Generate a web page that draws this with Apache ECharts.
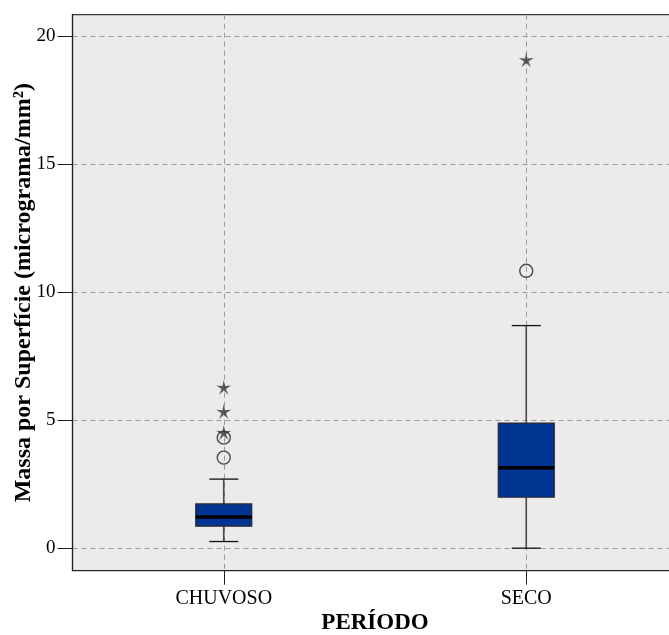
<!DOCTYPE html>
<html>
<head>
<meta charset="utf-8">
<script src="https://cdn.jsdelivr.net/npm/echarts@6/dist/echarts.min.js"></script>
<style>
  html, body { margin: 0; padding: 0; background: #ffffff; }
  #chart { width: 669px; height: 635px; }
</style>
</head>
<body>
<div id="chart"></div>
<script>
// Groups along the horizontal axis
const categories = ['CHUVOSO', 'SECO'];
// Box statistics per group: [lower whisker, Q1, median, Q3, upper whisker]
const chuvosoBox = [0.26, 0.86, 1.22, 1.73, 2.70];
const secoBox = [0.00, 1.99, 3.14, 4.89, 8.70];
// Outliers (circles) and extreme values (stars) per group
const chuvosoOutliers = [3.54, 4.32];
const secoOutliers = [10.84];
const chuvosoExtremes = [4.52, 5.34, 6.29];
const secoExtremes = [19.09];
// Value axis tick labels
const yTicks = [0, 5, 10, 15, 20];

const boxData = [chuvosoBox, secoBox].map((s, i) => [i].concat(s));
const toPoints = (vals, i) => vals.map(v => [i, v]);
const outlierData = toPoints(chuvosoOutliers, 0).concat(toPoints(secoOutliers, 1));
const extremeData = toPoints(chuvosoExtremes, 0).concat(toPoints(secoExtremes, 1));

const STAR = 'path://M10 0 L11.6 7.6 L19.51 6.91 L12.8 11.1 L15.88 18.09 L10 13.0 L4.12 18.09 L7.2 11.1 L0.49 6.91 L8.4 7.6 Z';
const serif = '"Liberation Serif", "Times New Roman", serif';

function renderBox(params, api) {
  const x = api.value(0);
  const lo = api.coord([x, api.value(1)]);
  const q1 = api.coord([x, api.value(2)]);
  const md = api.coord([x, api.value(3)]);
  const q3 = api.coord([x, api.value(4)]);
  const hi = api.coord([x, api.value(5)]);
  const cx = lo[0];
  const boxW = 56, capW = 29;
  const whisker = { stroke: '#4a4a4a', lineWidth: 1.6 };
  const cap = { stroke: '#111', lineWidth: 1.3 };
  return {
    type: 'group',
    children: [
      { type: 'line', shape: { x1: cx, y1: lo[1], x2: cx, y2: q1[1] }, style: whisker },
      { type: 'line', shape: { x1: cx, y1: q3[1], x2: cx, y2: hi[1] }, style: whisker },
      { type: 'line', shape: { x1: cx - capW / 2, y1: lo[1], x2: cx + capW / 2, y2: lo[1] }, style: cap },
      { type: 'line', shape: { x1: cx - capW / 2, y1: hi[1], x2: cx + capW / 2, y2: hi[1] }, style: cap },
      { type: 'rect', shape: { x: cx - boxW / 2, y: q3[1], width: boxW, height: q1[1] - q3[1] },
        style: { fill: '#003594', stroke: '#2a2a2a', lineWidth: 1.2 } },
      { type: 'line', shape: { x1: cx - boxW / 2, y1: md[1], x2: cx + boxW / 2, y2: md[1] },
        style: { stroke: '#000', lineWidth: 3.5 } }
    ]
  };
}

const chart = echarts.init(document.getElementById('chart'));
chart.setOption({
  animation: false,
  backgroundColor: '#ffffff',
  grid: {
    left: 72.5, top: 14.7, width: 605, height: 556,
    containLabel: false, outerBoundsMode: 'none',
    show: true, backgroundColor: '#EBEBEB', borderColor: '#3a3a3a', borderWidth: 1.2
  },
  xAxis: {
    type: 'value', min: -0.5, max: 1.5,
    name: 'PERÍODO', nameLocation: 'middle', nameGap: 41, nameMoveOverlap: false,
    nameTextStyle: { fontFamily: serif, fontWeight: 'bold', fontSize: 23, color: '#000' },
    axisLine: { show: true, onZero: false, lineStyle: { color: '#222', width: 1.2 } },
    axisTick: { show: true, length: 14, customValues: [0, 1], lineStyle: { color: '#222' } },
    axisLabel: { customValues: [0, 1], formatter: v => categories[v], margin: 18,
      fontFamily: serif, fontSize: 20, color: '#000' },
    splitLine: { show: true, lineStyle: { color: '#9a9a9a', type: [5, 4], width: 1 } }
  },
  yAxis: {
    type: 'value', min: -0.88, max: 20.85,
    name: 'Massa por Superfície (micrograma/mm²)', nameLocation: 'middle', nameGap: 37,
    nameMoveOverlap: false,
    nameTextStyle: { fontFamily: serif, fontWeight: 'bold', fontSize: 24, color: '#000' },
    axisLine: { show: true, onZero: false, lineStyle: { color: '#222', width: 1.2 } },
    axisTick: { show: true, length: 15, customValues: yTicks, lineStyle: { color: '#222' } },
    axisLabel: { customValues: yTicks, margin: 17, fontFamily: serif, fontSize: 19, color: '#000' },
    splitLine: { show: true, lineStyle: { color: '#9a9a9a', type: [5, 4], width: 1 } }
  },
  series: [
    { type: 'custom', renderItem: renderBox, data: boxData, z: 3 },
    { type: 'scatter', data: outlierData, symbol: 'circle', symbolSize: 13, z: 4,
      itemStyle: { color: 'rgba(0,0,0,0)', borderColor: '#4a4a4a', borderWidth: 1.4, opacity: 1 } },
    { type: 'scatter', data: extremeData, symbol: STAR, symbolSize: 15, z: 5,
      itemStyle: { color: '#333' } }
  ]
});
</script>
</body>
</html>
